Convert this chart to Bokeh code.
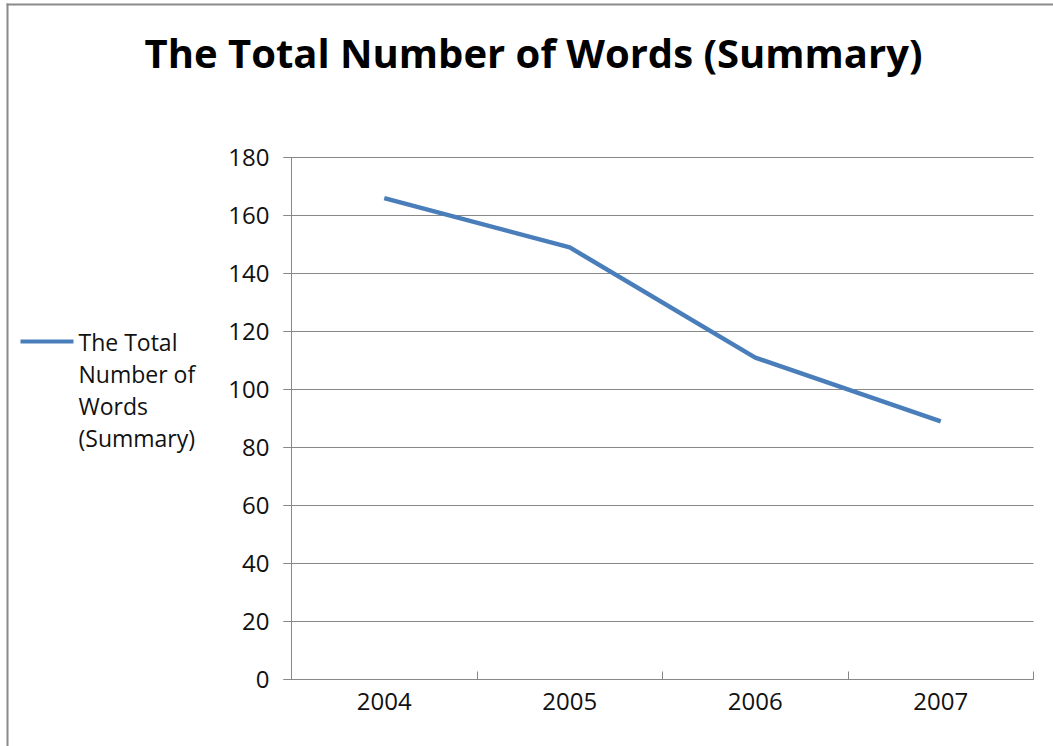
from bokeh.plotting import figure
from bokeh.models import (ColumnDataSource, Range1d, FixedTicker, Label,
                          BoxAnnotation, LinearAxis, Grid)
from bokeh.embed import file_html
from bokeh.resources import INLINE

# Data
years = ["2004", "2005", "2006", "2007"]
total_words = [166, 149, 111, 89]
series_name = "The Total Number of Words (Summary)"
legend_text = "The Total\nNumber of\nWords\n(Summary)"
y_ticks = [0, 20, 40, 60, 80, 100, 120, 140, 160, 180]
y_max = 180

FONT = "Open Sans"
LINE_BLUE = "#4A7EBB"
AXIS_GRAY = "#878787"
BORDER_GRAY = "#8a8a8a"
TEXT_COLOR = "#111111"

# Page geometry (pixels): the plot frame fills the whole canvas and the
# value area sits inside it, so titles and legend can live in the frame too.
W, H = 1053, 746
AREA_LEFT, AREA_RIGHT, AREA_TOP, AREA_BOTTOM = 291, 1033, 157, 679

n = len(years)
x_per_px = n / (AREA_RIGHT - AREA_LEFT)
y_per_px = y_max / (AREA_BOTTOM - AREA_TOP)
x_range = Range1d(-AREA_LEFT * x_per_px, n + (W - AREA_RIGHT) * x_per_px)
y_range = Range1d(-(H - AREA_BOTTOM) * y_per_px, y_max + AREA_TOP * y_per_px)

# Each year occupies one unit-wide band; points sit in the band centres
band_centres = [i + 0.5 for i in range(n)]
band_edges = [float(i) for i in range(n + 1)]

source = ColumnDataSource(data=dict(x=band_centres, y=total_words, year=years))

p = figure(
    width=W, height=H, min_border=0,
    x_range=x_range, y_range=y_range,
    output_backend="svg", toolbar_location=None,
    x_axis_type=None, y_axis_type=None,
)
p.outline_line_color = None
p.background_fill_color = "white"
p.border_fill_color = "white"

# Y axis pinned at the first band edge
yaxis = LinearAxis(ticker=FixedTicker(ticks=y_ticks, minor_ticks=[]),
                   fixed_location=0, bounds=(0, y_max))
yaxis.axis_line_color = AXIS_GRAY
yaxis.major_tick_line_color = AXIS_GRAY
yaxis.major_tick_out = 8
yaxis.major_tick_in = 0
yaxis.major_label_text_font = FONT
yaxis.major_label_text_font_size = "24px"
yaxis.major_label_text_color = TEXT_COLOR
yaxis.major_label_standoff = 14
p.add_layout(yaxis, "left")

# X axis pinned at zero: labels at band centres, tick marks at band edges
xaxis = LinearAxis(ticker=FixedTicker(ticks=band_centres, minor_ticks=band_edges),
                   fixed_location=0, bounds=(0, n))
xaxis.major_label_overrides = {c: y for c, y in zip(band_centres, years)}
xaxis.axis_line_color = AXIS_GRAY
xaxis.major_tick_line_color = None
xaxis.minor_tick_line_color = AXIS_GRAY
xaxis.minor_tick_in = 8
xaxis.minor_tick_out = 0
xaxis.major_label_text_font = FONT
xaxis.major_label_text_font_size = "24px"
xaxis.major_label_text_color = TEXT_COLOR
xaxis.major_label_standoff = 7
p.add_layout(xaxis, "below")

# Horizontal gridlines, limited to the value area (plus the tick length)
p.add_layout(Grid(dimension=1, ticker=FixedTicker(ticks=y_ticks),
                  bounds=(0, y_max), cross_bounds=(-8 * x_per_px, n),
                  grid_line_color=AXIS_GRAY, grid_line_width=1))

# Series line
p.line("x", "y", source=source, line_color=LINE_BLUE, line_width=4.5)

# Screen units below: origin at the canvas bottom-left
# Chart title
p.add_layout(Label(
    x=533, y=H - 52, x_units="screen", y_units="screen",
    text=series_name, text_font=FONT, text_font_style="bold",
    text_font_size="40px", text_align="center", text_baseline="alphabetic",
    text_color="#000000",
))

# Legend
p.add_layout(BoxAnnotation(
    left=20, right=73, top=H - 339, bottom=H - 343,
    left_units="screen", right_units="screen",
    top_units="screen", bottom_units="screen",
    fill_color=LINE_BLUE, fill_alpha=1, line_color=None,
))
p.add_layout(Label(
    x=78, y=H - 325, x_units="screen", y_units="screen",
    text=legend_text, text_font=FONT,
    text_font_size="23px", text_align="left", text_baseline="top",
    text_line_height=1.01, text_color=TEXT_COLOR,
))

# Outer chart border: left and top edges (the others run past the page)
p.add_layout(BoxAnnotation(
    left=6, right=8, top=H - 3, bottom=0,
    left_units="screen", right_units="screen",
    top_units="screen", bottom_units="screen",
    fill_color=BORDER_GRAY, fill_alpha=1, line_color=None,
))
p.add_layout(BoxAnnotation(
    left=6, right=W, top=H - 3, bottom=H - 5,
    left_units="screen", right_units="screen",
    top_units="screen", bottom_units="screen",
    fill_color=BORDER_GRAY, fill_alpha=1, line_color=None,
))

open("out.html", "w").write(file_html(p, INLINE))
